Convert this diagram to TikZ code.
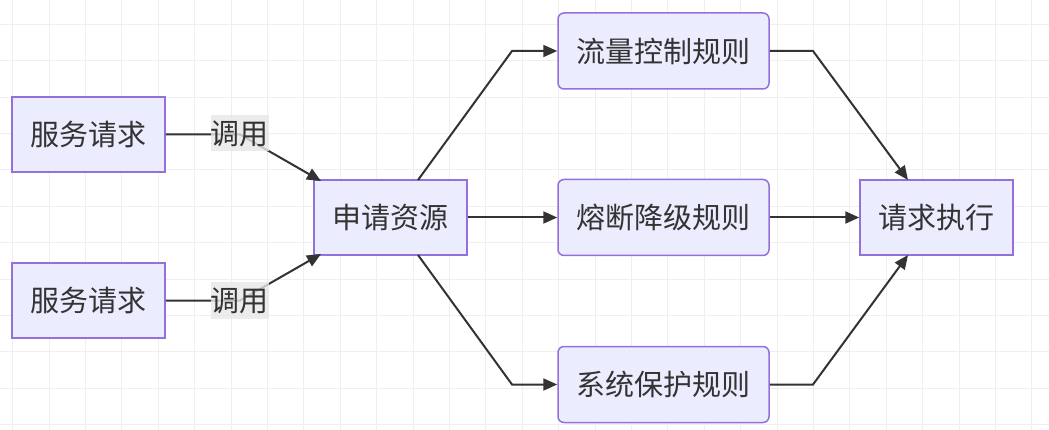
\documentclass[tikz,border=0pt]{standalone}
\usepackage{fontspec}
\setmainfont{Noto Sans CJK SC}
\usetikzlibrary{arrows.meta}
\definecolor{nodefill}{HTML}{ECECFF}
\definecolor{nodeline}{HTML}{9370DB}
\definecolor{ink}{HTML}{333333}
\definecolor{gridc}{HTML}{EFEFEF}
\definecolor{lblbg}{HTML}{E8E8E8}
\tikzset{
  box/.style={draw=nodeline, fill=nodefill, line width=1.5pt, minimum width=153pt, minimum height=75pt, text=ink, font=\fontsize{29}{34}\selectfont, inner sep=0pt},
  rbox/.style={box, rounded corners=6pt, minimum width=211pt, minimum height=76pt},
  lbl/.style={fill=lblbg, fill opacity=0.8, text opacity=1, text=ink, font=\fontsize{29}{34}\selectfont, inner sep=0pt, minimum height=36pt},
  link/.style={draw=ink, line width=2pt, -{Triangle[length=14pt,width=12pt]}},
  plain/.style={draw=ink, line width=2pt}
}
\begin{document}
\begin{tikzpicture}[x=1pt,y=-1pt]
\useasboundingbox (0,0) rectangle (1049,430);
\fill[white] (0,0) rectangle (1049,430);
\foreach \i in {0,...,28} { \draw[gridc, line width=1pt] ({12.7+36.4*\i},0) -- ({12.7+36.4*\i},430); }
\foreach \j in {0,...,11} { \draw[gridc, line width=1pt] (0,{24.3+36.4*\j}) -- (1049,{24.3+36.4*\j}); }

\node[box] (a1) at (88.5,134.5) {服务请求};
\node[box] (a2) at (88.5,300.5) {服务请求};
\node[box] (b) at (390.5,217.5) {申请资源};
\node[rbox] (c1) at (663.5,51) {流量控制规则};
\node[rbox] (c2) at (663.5,217.5) {熔断降级规则};
\node[rbox] (c3) at (663.5,384.5) {系统保护规则};
\node[box] (d) at (936.5,217.5) {请求执行};

\coordinate (k1) at (240,134.5);
\coordinate (k2) at (240,300.5);
\coordinate (t1) at (321,181);
\coordinate (t2) at (321,254);
\coordinate (e1) at (418,180);
\coordinate (e3) at (418,255);
\coordinate (m1) at (512,51);
\coordinate (m3) at (512,384.5);
\coordinate (n1) at (813,51);
\coordinate (n3) at (813,384.5);
\coordinate (u1) at (908,180);
\coordinate (u3) at (908,255);

\draw[link] (a1.east) -- (k1) -- (t1);
\draw[link] (a2.east) -- (k2) -- (t2);
\node[lbl] (l1) at (239.5,133.5) {调用};
\node[lbl] (l2) at (239.5,300.5) {调用};

\draw[link] (e1) -- (m1) -- (c1.west);
\draw[link] (b.east) -- (c2.west);
\draw[link] (e3) -- (m3) -- (c3.west);
\draw[link] (c1.east) -- (n1) -- (u1);
\draw[link] (c2.east) -- (d.west);
\draw[link] (c3.east) -- (n3) -- (u3);
\end{tikzpicture}
\end{document}
